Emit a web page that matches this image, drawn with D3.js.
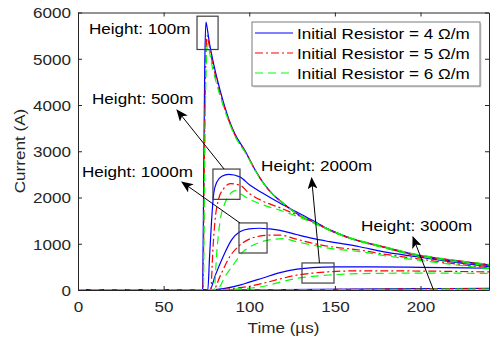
<!DOCTYPE html>
<html lang='en'>
<head>
  <meta charset='UTF-8'>
  <title>Current vs time</title>
  <style>
    body { margin: 0; background: #fff; }
    svg text { font-family: 'Liberation Sans', Arial, sans-serif; }
  </style>
</head>
<body>
<div id='chart'></div>
<script src='https://d3js.org/d3.v7.min.js'></script>
<script>
  // axis ticks
  var xTicks = [0, 50, 100, 150, 200]
  var yTicks = [0, 1000, 2000, 3000, 4000, 5000, 6000]

  var resistors = [4, 5, 6]   // Ω/m, one per colour
  var heights = ['100m', '500m', '1000m', '2000m', '3000m']

  // [time (µs), current (A)]
  var h100_r4 = [[0,0],[72.8,0],[73.4,2500],[74.0,4800],[74.7,5790],[75.5,5650],[76.5,5400],[78,5100],[81,4600],[85,4050],[88,3700],[91.6,3380],[97.4,3020],[104,2560],[108,2330],[114,2060],[118,1930],[127.5,1660],[137,1475],[147,1300],[158.6,1125],[178,935],[197.5,760],[217,650],[240,545]]
  var h100_r5 = [[0,0],[73.0,0],[73.7,2500],[74.5,4700],[75.4,5500],[76.3,5350],[78,5000],[81,4520],[85,4000],[88,3670],[91.6,3350],[97.4,3000],[104,2560],[108,2320],[114,2060],[118,1930],[127.5,1660],[137,1480],[147,1300],[158.6,1130],[178,940],[197.5,765],[217,655],[240,550]]
  var h100_r6 = [[0,0],[73.2,0],[73.9,2500],[74.7,4600],[75.6,5320],[76.5,5200],[78,4900],[81,4450],[85,3960],[88,3650],[91.6,3330],[97.4,2990],[104,2550],[108,2320],[114,2060],[118,1930],[127.5,1660],[137,1480],[147,1305],[158.6,1135],[178,945],[197.5,770],[217,660],[240,555]]

  var h500_r4 = [[0,0],[75.8,0],[76.8,700],[78,1500],[79.3,2100],[81,2330],[84,2460],[88,2500],[94.5,2445],[100.3,2270],[108,2090],[117.8,1880],[127.5,1690],[137.2,1500],[147,1300],[158.6,1125],[178,930],[197.5,750],[217,640],[240,530]]
  var h500_r5 = [[0,0],[77.5,0],[78.8,900],[80.3,1600],[82,1950],[85,2190],[89,2300],[94.5,2266],[100.3,2080],[108,1920],[117.8,1780],[127.5,1630],[137.2,1470],[147,1290],[158.6,1120],[178,925],[197.5,745],[217,635],[240,525]]
  var h500_r6 = [[0,0],[79.5,0],[81,800],[83,1500],[85.5,1850],[88.5,2060],[92,2150],[94.5,2090],[100.3,1960],[108,1840],[117.8,1726],[127.5,1600],[137.2,1450],[147,1285],[158.6,1115],[178,920],[197.5,740],[217,630],[240,520]]

  var h1000_r4 = [[0,0],[77,0],[80,300],[84.7,720],[89.6,1080],[94.5,1260],[100,1320],[106,1335],[112,1320],[118,1290],[127.5,1200],[137,1115],[147,1045],[164.5,935],[178,830],[197.5,720],[217,615],[240,505]]
  var h1000_r5 = [[0,0],[79,0],[83,300],[88.6,720],[94.5,970],[100,1100],[106,1165],[112,1187],[118,1185],[127.5,1100],[137,1010],[147,940],[164.5,865],[178,780],[197.5,680],[217,580],[240,480]]
  var h1000_r6 = [[0,0],[81,0],[86,300],[91,560],[96.4,830],[100.3,930],[108,1050],[115,1100],[120,1110],[127.5,1045],[137,970],[147,900],[164.5,830],[178,750],[197.5,650],[217,560],[240,460]]

  var h2000_r4 = [[0,0],[77,0],[85,30],[95,110],[100,170],[108,260],[118,375],[128,450],[137,485],[150,500],[170,500],[200,490],[240,470]]
  var h2000_r5 = [[0,0],[79,0],[90,30],[100,80],[108,144],[118,240],[127.5,320],[137,365],[147,395],[165,415],[200,410],[240,390]]
  var h2000_r6 = [[0,0],[81,0],[92,20],[100,40],[108,75],[118,170],[127.5,250],[137,295],[147,325],[165,355],[200,365],[240,360]]

  var h3000_r4 = [[0,0],[80,0],[120,8],[160,20],[200,30],[240,35]]
  var h3000_r5 = [[0,0],[82,0],[120,5],[160,14],[200,22],[240,27]]
  var h3000_r6 = [[0,0],[84,0],[120,3],[160,10],[200,16],[240,20]]

  var seriesR4 = [h100_r4, h500_r4, h1000_r4, h2000_r4, h3000_r4]
  var seriesR5 = [h100_r5, h500_r5, h1000_r5, h2000_r5, h3000_r5]
  var seriesR6 = [h100_r6, h500_r6, h1000_r6, h2000_r6, h3000_r6]

  // zoom boxes [t0, t1, i0, i1]
  var boxes = [[69.5, 81.8, 5200, 5920], [78.8, 94.6, 1960, 2615], [94, 110.4, 800, 1450], [130.8, 149.5, 150, 585]]
  // annotation labels [t, i] (left, baseline)
  var labelPos = [[6.4, 5535], [8.2, 4022], [2.3, 2443], [106.9, 2573], [165.3, 1276]]
  // arrows: from [t, i] to tip [t, i]; null = no arrow
  var arrows = [null, [[85.3, 2616], [57.8, 3892]], [[94.6, 1449], [60.7, 2335]], [[141, 584], [136.4, 2422]], [[207.6, 0], [195.6, 1146]]]

  var W = 502, H = 343
  var SX = 1.22   // text in the figure is horizontally stretched
  var FS = 14
  var ink = '#262626'

  var styles = [
    {color: '#0000ff', dash: null},
    {color: '#ff0000', dash: '8,3,2,3'},
    {color: '#00ff00', dash: '8,5'}
  ]

  var svg = d3.select('#chart').append('svg').attr('width', W).attr('height', H)

  var x = d3.scaleLinear().domain([0, 240]).range([78, 489])
  var y = d3.scaleLinear().domain([0, 6000]).range([290, 12.5])

  var line = d3.line()
    .x(function (d) { return x(d[0]) })
    .y(function (d) { return y(d[1]) })
    .curve(d3.curveMonotoneX)

  // data lines
  var groups = [seriesR4, seriesR5, seriesR6]
  groups.forEach(function (set, k) {
    set.forEach(function (pts) {
      svg.append('path')
        .attr('d', line(pts))
        .style('fill', 'none')
        .style('stroke', styles[k].color)
        .style('stroke-width', 1.2)
        .style('stroke-dasharray', styles[k].dash)
    })
  })

  // axes (box style, ticks inward)
  var axB = svg.append('g').attr('transform', 'translate(0,290)')
    .call(d3.axisBottom(x).tickValues(xTicks).tickSizeInner(-4).tickSizeOuter(0).tickPadding(12))
  var axL = svg.append('g').attr('transform', 'translate(78,0)')
    .call(d3.axisLeft(y).tickValues(yTicks).tickFormat(d3.format('d')).tickSizeInner(-4).tickSizeOuter(0).tickPadding(5.7))
  svg.append('g').attr('transform', 'translate(0,12.5)')
    .call(d3.axisTop(x).tickValues(xTicks).tickSizeInner(-4).tickSizeOuter(0).tickFormat(''))
  svg.append('g').attr('transform', 'translate(489,0)')
    .call(d3.axisRight(y).tickValues(yTicks).tickSizeInner(-4).tickSizeOuter(0).tickFormat(''))

  svg.selectAll('.domain, .tick line').attr('stroke', ink)
  svg.selectAll('.tick text')
    .attr('fill', ink)
    .style('font-size', FS + 'px')
    .attr('font-family', null)
    .attr('transform', 'scale(' + SX + ',1)')
  axL.selectAll('.tick text').attr('dy', '0.38em')

  // axis titles
  svg.append('text')
    .attr('transform', 'translate(283.5,333) scale(' + SX + ',1)')
    .attr('text-anchor', 'middle').attr('fill', ink).style('font-size', FS + 'px')
    .text('Time (µs)')
  svg.append('text')
    .attr('transform', 'translate(25,151) rotate(-90) scale(' + SX + ',1)')
    .attr('text-anchor', 'middle').attr('fill', ink).style('font-size', FS + 'px')
    .text('Current (A)')

  // zoom boxes
  boxes.forEach(function (b) {
    svg.append('rect')
      .attr('x', x(b[0])).attr('y', y(b[3]))
      .attr('width', x(b[1]) - x(b[0])).attr('height', y(b[2]) - y(b[3]))
      .attr('fill', 'none').attr('stroke', '#404040').attr('stroke-width', 1.2)
  })

  // arrow heads
  svg.append('defs').append('marker')
    .attr('id', 'head').attr('viewBox', '0 0 12 10')
    .attr('refX', 11).attr('refY', 5)
    .attr('markerWidth', 12).attr('markerHeight', 10)
    .attr('markerUnits', 'userSpaceOnUse')
    .attr('orient', 'auto')
    .append('path').attr('d', 'M0,0 L12,5 L0,10 L3,5 Z').attr('fill', '#000')

  arrows.forEach(function (a) {
    if (!a) return
    svg.append('line')
      .attr('x1', x(a[0][0])).attr('y1', y(a[0][1]))
      .attr('x2', x(a[1][0])).attr('y2', y(a[1][1]))
      .attr('stroke', '#000').attr('stroke-width', 1)
      .attr('marker-end', 'url(#head)')
  })

  // height labels
  heights.forEach(function (h, i) {
    svg.append('text')
      .attr('transform', 'translate(' + x(labelPos[i][0]) + ',' + y(labelPos[i][1]) + ') scale(' + SX + ',1)')
      .attr('fill', '#000').style('font-size', FS + 'px')
      .text('Height: ' + h)
  })

  // legend
  var lg = svg.append('g').attr('transform', 'translate(252,22)')
  lg.append('rect').attr('x', 1.5).attr('y', 1.5).attr('width', 228).attr('height', 64).attr('fill', '#d8d8d8')
  lg.append('rect').attr('width', 228).attr('height', 64).attr('fill', '#fff').attr('stroke', '#7a7a7a')
  resistors.forEach(function (r, k) {
    var ly = 11 + k * 20
    lg.append('path')
      .attr('d', 'M3,' + ly + 'H41')
      .style('fill', 'none')
      .style('stroke', styles[k].color)
      .style('stroke-width', 1.2)
      .style('stroke-dasharray', styles[k].dash)
    lg.append('text')
      .attr('transform', 'translate(45,' + (ly + 5.5) + ') scale(' + SX + ',1)')
      .attr('fill', '#000').style('font-size', FS + 'px')
      .text('Initial Resistor = ' + r + ' Ω/m')
  })
</script>
</body>
</html>
